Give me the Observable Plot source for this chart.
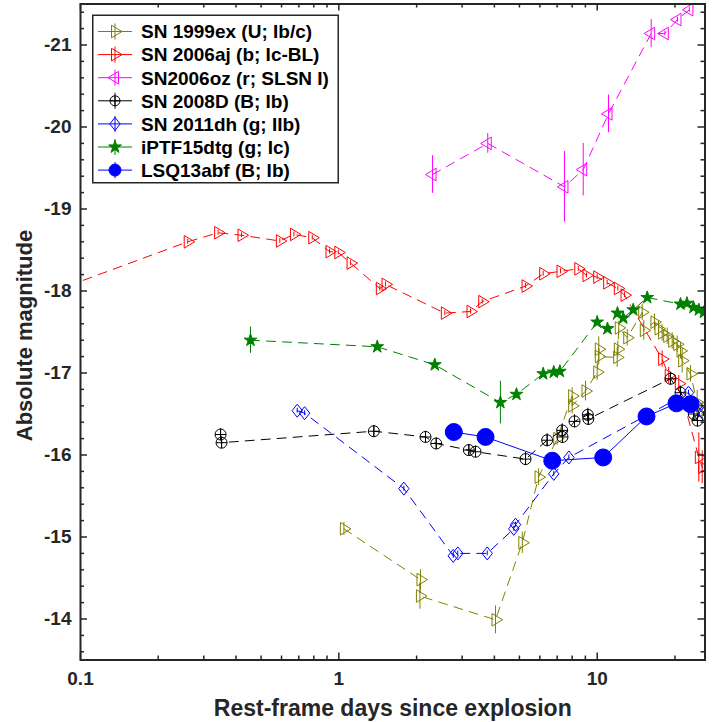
<!DOCTYPE html>
<html><head><meta charset="utf-8">
<script src="https://cdn.jsdelivr.net/npm/d3@7"></script>
<script src="https://cdn.jsdelivr.net/npm/@observablehq/plot@0.6"></script>
<style>
html,body{margin:0;padding:0;background:#fff;}
#wrap{position:relative;width:726px;height:722px;}
</style></head><body><div id="wrap"></div>
<script>
// ---------- data ----------
const labels = ["SN 1999ex (U; Ib/c)", "SN 2006aj (b; Ic-BL)", "SN2006oz (r; SLSN I)", "SN 2008D (B; Ib)", "SN 2011dh (g; IIb)", "iPTF15dtg (g; Ic)", "LSQ13abf (B; Ib)"];

const sn1999ex_t = [1.046, 2.07, 2.06, 4.04, 5.13, 5.93, 7.00, 8.00, 8.00, 9.01, 10.0, 10.14, 10.14, 11.95, 12.02, 12.12, 13.07, 14.93, 15.15, 16.66, 17.27, 17.84, 18.66, 19.51, 20.40, 21.01, 21.33, 22.96, 24.38, 25.49];
const sn1999ex_m = [-15.10, -14.48, -14.28, -13.99, -14.93, -15.73, -16.20, -16.72, -16.60, -16.78, -17.01, -17.29, -17.20, -17.19, -17.29, -17.55, -17.43, -17.74, -17.52, -17.62, -17.54, -17.49, -17.45, -17.39, -17.35, -17.27, -17.15, -16.99, -16.64, -16.54];
const sn1999ex_e = [0.08, 0.12, 0.16, 0.17, 0.13, 0.10, 0.08, 0.10, 0.10, 0.12, 0.10, 0.15, 0.10, 0.12, 0.10, 0.08, 0.10, 0.10, 0.12, 0.10, 0.10, 0.10, 0.10, 0.10, 0.10, 0.10, 0.15, 0.10, 0.15, 0.10];

const sn2006aj_t = [0.06, 0.260, 0.341, 0.420, 0.591, 0.670, 0.789, 0.920, 0.995, 1.110, 1.441, 1.516, 2.572, 3.233, 3.589, 5.28, 6.18, 7.21, 8.45, 9.09, 10.0, 10.93, 12.02, 12.76, 17.84, 18.92, 20.69, 24.74, 25.49];
const sn2006aj_m = [-17.86, -18.60, -18.71, -18.68, -18.61, -18.69, -18.65, -18.48, -18.47, -18.34, -18.03, -18.08, -17.73, -17.75, -17.87, -18.06, -18.21, -18.24, -18.27, -18.19, -18.17, -18.10, -18.03, -17.95, -17.17, -16.97, -16.87, -15.97, -15.85];
const sn2006aj_e = [0.03, 0.03, 0.03, 0.03, 0.03, 0.03, 0.03, 0.03, 0.03, 0.03, 0.03, 0.03, 0.03, 0.03, 0.03, 0.03, 0.03, 0.03, 0.03, 0.03, 0.03, 0.03, 0.03, 0.03, 0.10, 0.10, 0.10, 0.30, 0.20];

const sn2006oz_t = [2.305, 3.77, 7.47, 8.83, 11.06, 16.18, 18.27, 20.46, 22.75];
const sn2006oz_m = [-19.42, -19.80, -19.27, -19.48, -20.16, -21.14, -21.14, -21.31, -21.43];
const sn2006oz_e = [0.23, 0.12, 0.43, 0.32, 0.23, 0.17, 0.03, 0.03, 0.03];

const sn2008D_t = [0.3485, 0.3516, 1.366, 2.165, 2.382, 3.185, 3.381, 5.28, 6.40, 7.32, 7.34, 8.17, 9.20, 9.24, 19.22, 21.01, 23.65, 24.44];
const sn2008D_m = [-16.25, -16.15, -16.29, -16.22, -16.14, -16.06, -16.04, -15.95, -16.18, -16.30, -16.22, -16.41, -16.49, -16.44, -16.93, -16.76, -16.50, -16.42];
const sn2008D_e = [0.07, 0.07, 0.07, 0.07, 0.07, 0.07, 0.07, 0.08, 0.08, 0.08, 0.08, 0.08, 0.08, 0.08, 0.08, 0.08, 0.08, 0.08];

const sn2011dh_t = [0.690, 0.737, 1.785, 2.772, 2.887, 3.753, 4.755, 4.83, 6.79, 7.77, 22.56, 24.44, 25.79];
const sn2011dh_m = [-16.54, -16.51, -15.59, -14.77, -14.80, -14.80, -15.10, -15.15, -15.77, -15.97, -16.76, -16.60, -16.50];
const sn2011dh_e = [0.03, 0.03, 0.03, 0.03, 0.03, 0.03, 0.03, 0.03, 0.03, 0.03, 0.03, 0.03, 0.03];

const iptf15dtg_t = [0.455, 1.408, 2.352, 4.22, 4.87, 6.18, 6.79, 7.17, 10.0, 10.96, 11.98, 12.61, 13.79, 15.62, 21.01, 22.26, 23.59, 24.74, 25.9];
const iptf15dtg_m = [-17.40, -17.32, -17.10, -16.64, -16.74, -16.99, -17.01, -17.02, -17.62, -17.54, -17.73, -17.67, -17.77, -17.92, -17.84, -17.85, -17.80, -17.77, -17.74];
const iptf15dtg_e = [0.16, 0.04, 0.04, 0.26, 0.05, 0.04, 0.04, 0.04, 0.04, 0.04, 0.04, 0.04, 0.04, 0.04, 0.04, 0.04, 0.04, 0.04, 0.04];

const lsq13abf_t = [2.786, 3.696, 6.70, 10.55, 15.52, 20.27, 22.96];
const lsq13abf_m = [-16.28, -16.22, -15.93, -15.97, -16.47, -16.63, -16.62];
const lsq13abf_e = [0.05, 0.05, 0.05, 0.05, 0.05, 0.05, 0.05];

const xMajor = [0.1, 1, 10];
const xMinor = [0.2, 0.3, 0.4, 0.5, 0.6, 0.7, 0.8, 0.9, 2, 3, 4, 5, 6, 7, 8, 9, 20];
const yMajor = [-21, -20, -19, -18, -17, -16, -15, -14];
const yMinor = d3.range(-214, -135, 2).filter(v => v % 10 !== 0).map(v => v / 10);

// ---------- symbols ----------
const rad = s => Math.sqrt(s / Math.PI);
const symRight = {draw(c, s) {const r = rad(s); c.moveTo(-0.5*r, -0.9*r); c.lineTo(r, 0); c.lineTo(-0.5*r, 0.9*r); c.closePath();}};
const symLeft = {draw(c, s) {const r = rad(s); c.moveTo(0.5*r, -0.9*r); c.lineTo(-r, 0); c.lineTo(0.5*r, 0.9*r); c.closePath();}};
const symDiamond = {draw(c, s) {const r = rad(s); c.moveTo(0, -r); c.lineTo(0.8*r, 0); c.lineTo(0, r); c.lineTo(-0.8*r, 0); c.closePath();}};
const symCirclePlus = {draw(c, s) {const r = rad(s); c.moveTo(r, 0); c.arc(0, 0, r, 0, 2*Math.PI); c.moveTo(-r, 0); c.lineTo(r, 0); c.moveTo(0, -r); c.lineTo(0, r);}};
const symCircle = {draw(c, s) {const r = rad(s); c.moveTo(r, 0); c.arc(0, 0, r, 0, 2*Math.PI);}};

const series = [
  {t: sn1999ex_t, m: sn1999ex_m, e: sn1999ex_e, color: "#808000", sym: symRight, r: 7, lr: 7, fill: "none", dash: "9,7"},
  {t: sn2006aj_t, m: sn2006aj_m, e: sn2006aj_e, color: "#ff0000", sym: symRight, r: 7, lr: 7, fill: "none", dash: "9,7"},
  {t: sn2006oz_t, m: sn2006oz_m, e: sn2006oz_e, color: "#ff00ff", sym: symLeft, r: 7, lr: 7, fill: "none", dash: "9,7"},
  {t: sn2008D_t, m: sn2008D_m, e: sn2008D_e, color: "#000000", sym: symCirclePlus, r: 5.5, lr: 5, fill: "none", dash: "9,7"},
  {t: sn2011dh_t, m: sn2011dh_m, e: sn2011dh_e, color: "#0000ff", sym: symDiamond, r: 6.5, lr: 6.5, fill: "none", dash: "9,7"},
  {t: iptf15dtg_t, m: iptf15dtg_m, e: iptf15dtg_e, color: "#008000", sym: d3.symbolStar, r: 4, lr: 4, fill: "#008000", dash: "9,7"},
  {t: lsq13abf_t, m: lsq13abf_m, e: lsq13abf_e, color: "#0000ff", sym: symCircle, r: 8.5, lr: 6, fill: "#0000ff", dash: null}
];

const W = 726, H = 722, ML = 80, MR = 21.5, MT = 3.5, MB = 62.5;
const FH = H - MT - MB, FW = W - ML - MR;
const AX = "#262626";
const FONT = "'Liberation Sans', Arial, Helvetica, sans-serif";

const marks = [];
series.forEach(s => {
  const rows = s.t.map((t, i) => ({t, m: s.m[i], e: s.e[i]}));
  marks.push(Plot.line(rows, {x: "t", y: "m", stroke: s.color, strokeWidth: 1, strokeDasharray: s.dash, clip: true}));
  marks.push(Plot.ruleX(rows, {x: "t", y1: d => d.m - d.e, y2: d => d.m + d.e, stroke: s.color, strokeWidth: 1, clip: true}));
  marks.push(Plot.dot(rows, {x: "t", y: "m", symbol: s.sym, r: s.r, stroke: s.color, fill: s.fill, strokeWidth: 1, clip: true}));
});

// ticks (inward)
marks.push(
  Plot.tickX(xMajor, {x: d => d, insetTop: FH - 7, stroke: AX, strokeWidth: 1.5}),
  Plot.tickX(xMinor, {x: d => d, insetTop: FH - 4, stroke: AX, strokeWidth: 1.5}),
  Plot.tickX(xMajor, {x: d => d, insetBottom: FH - 7, stroke: AX, strokeWidth: 1.5}),
  Plot.tickX(xMinor, {x: d => d, insetBottom: FH - 4, stroke: AX, strokeWidth: 1.5}),
  Plot.tickY(yMajor, {y: d => d, insetRight: FW - 7, stroke: AX, strokeWidth: 1.5}),
  Plot.tickY(yMinor, {y: d => d, insetRight: FW - 4, stroke: AX, strokeWidth: 1.5}),
  Plot.tickY(yMajor, {y: d => d, insetLeft: FW - 7, stroke: AX, strokeWidth: 1.5}),
  Plot.tickY(yMinor, {y: d => d, insetLeft: FW - 4, stroke: AX, strokeWidth: 1.5}),
  Plot.frame({stroke: AX, strokeWidth: 2}),
  Plot.axisX({ticks: xMajor, tickSize: 0, tickPadding: 11, tickFormat: d => String(d), fontSize: 19, fontWeight: "bold", fill: AX, label: null}),
  Plot.axisY({ticks: yMajor, tickSize: 0, tickPadding: 9, tickFormat: d => String(d), fontSize: 19, fontWeight: "bold", fill: AX, label: null}),
  Plot.text(["Rest-frame days since explosion"], {text: d => d, frameAnchor: "bottom", lineAnchor: "middle", textAnchor: "middle", dy: 48.5, fontSize: 23, fontWeight: "bold", fill: AX}),
  Plot.text(["Absolute magnitude"], {text: d => d, frameAnchor: "left", lineAnchor: "middle", textAnchor: "middle", dx: -56, dy: 3.5, rotate: -90, fontSize: 22, fontWeight: "bold", fill: AX})
);

const chart = Plot.plot({
  width: W, height: H,
  marginLeft: ML, marginRight: MR, marginTop: MT, marginBottom: MB,
  x: {type: "log", domain: [0.1, 26.14]},
  y: {domain: [-13.5, -21.5]},
  style: {fontFamily: FONT, background: "white", overflow: "visible"},
  marks
});
document.getElementById("wrap").appendChild(chart);

// ---------- legend (overlay) ----------
const L = d3.select("#wrap").append("svg")
  .attr("width", W).attr("height", H)
  .style("position", "absolute").style("left", "0").style("top", "0");
L.append("rect").attr("x", 92.75).attr("y", 15.25).attr("width", 245.5).attr("height", 167.5)
  .attr("fill", "white").attr("stroke", AX).attr("stroke-width", 1.5);
series.forEach((s, i) => {
  const cy = 31.5 + i * 23.1;
  const g = L.append("g");
  g.append("line").attr("x1", 98).attr("x2", 132).attr("y1", cy).attr("y2", cy).attr("stroke", s.color).attr("stroke-width", 1);
  g.append("line").attr("x1", 115).attr("x2", 115).attr("y1", cy - 8).attr("y2", cy + 8).attr("stroke", s.color).attr("stroke-width", 1);
  const p = d3.path();
  s.sym.draw(p, s.lr * s.lr * Math.PI);
  g.append("path").attr("d", p.toString()).attr("transform", `translate(115,${cy})`)
    .attr("fill", s.fill).attr("stroke", s.color).attr("stroke-width", 1);
  g.append("text").attr("x", 141).attr("y", cy).attr("dy", "0.36em")
    .attr("font-family", FONT).attr("font-weight", "bold").attr("font-size", 19)
    .attr("fill", "#000").text(labels[i]);
});
</script>
</body></html>
